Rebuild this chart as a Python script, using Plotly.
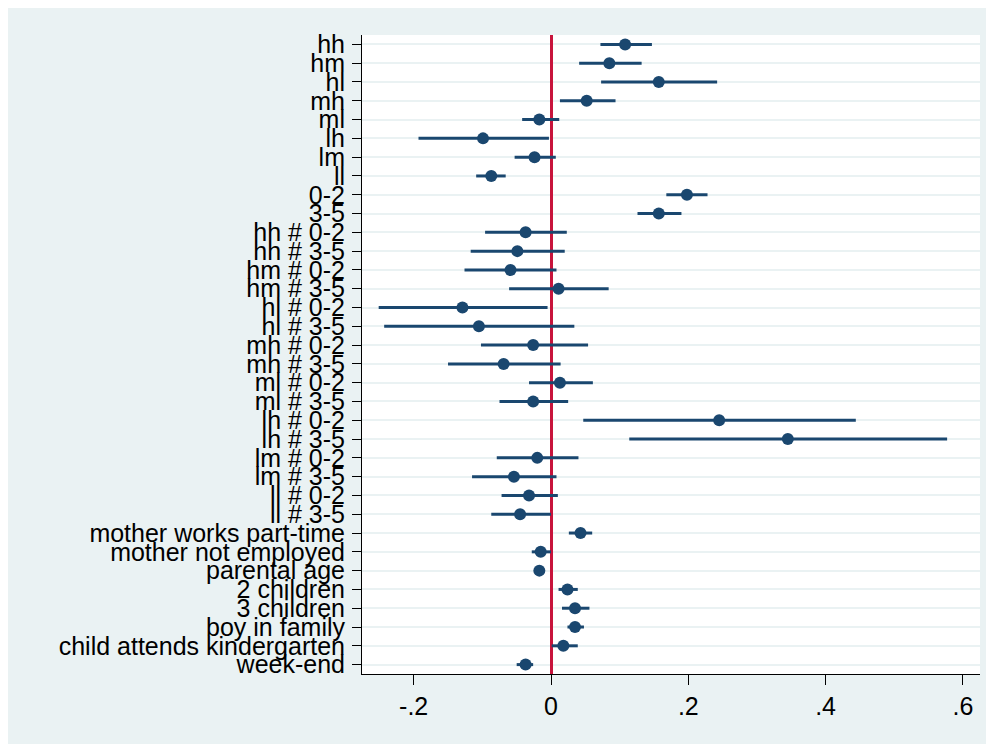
import plotly.graph_objects as go

labels = ["hh", "hm", "hl", "mh", "ml", "lh", "lm", "ll", "0-2", "3-5",
          "hh # 0-2", "hh # 3-5", "hm # 0-2", "hm # 3-5", "hl # 0-2", "hl # 3-5",
          "mh # 0-2", "mh # 3-5", "ml # 0-2", "ml # 3-5", "lh # 0-2", "lh # 3-5",
          "lm # 0-2", "lm # 3-5", "ll # 0-2", "ll # 3-5",
          "mother works part-time", "mother not employed", "parental age",
          "2 children", "3 children", "boy in family",
          "child attends kindergarten", "week-end"]

est = [0.108, 0.085, 0.157, 0.052, -0.017, -0.099, -0.024, -0.087, 0.198, 0.157,
       -0.037, -0.049, -0.059, 0.011, -0.129, -0.105,
       -0.026, -0.069, 0.013, -0.026, 0.245, 0.345,
       -0.020, -0.054, -0.032, -0.045,
       0.043, -0.015, -0.017,
       0.024, 0.035, 0.035,
       0.018, -0.037]

lo = [0.072, 0.041, 0.073, 0.013, -0.042, -0.193, -0.053, -0.109, 0.168, 0.126,
      -0.096, -0.117, -0.126, -0.061, -0.251, -0.243,
      -0.102, -0.150, -0.032, -0.075, 0.047, 0.114,
      -0.079, -0.115, -0.072, -0.087,
      0.026, -0.028, -0.019,
      0.011, 0.016, 0.024,
      0.001, -0.050]

hi = [0.147, 0.132, 0.242, 0.094, 0.012, -0.003, 0.007, -0.066, 0.228, 0.190,
      0.023, 0.020, 0.008, 0.084, -0.005, 0.034,
      0.054, 0.014, 0.061, 0.025, 0.444, 0.577,
      0.040, 0.008, 0.010, 0.000,
      0.060, 0.000, -0.015,
      0.039, 0.056, 0.048,
      0.039, -0.026]

x_ticks = [-0.2, 0, 0.2, 0.4, 0.6]
x_ticktext = ["-.2", "0", ".2", ".4", ".6"]

NAVY = "#1a476f"
BG = "#eaf2f3"
RED = "#c8143c"
FONT = "Liberation Sans, Arial, sans-serif"

fig = go.Figure()

fig.add_trace(go.Scatter(
    x=est, y=labels, mode="markers",
    marker=dict(size=12, color=NAVY),
    error_x=dict(type="data", symmetric=False,
                 array=[h - e for h, e in zip(hi, est)],
                 arrayminus=[e - l for e, l in zip(est, lo)],
                 width=0, thickness=3, color=NAVY),
    showlegend=False, hoverinfo="x+y",
))

W, H = 994, 744
ml, mr, mt, mb = 354, 22, 27, 78

fig.update_layout(
    width=W, height=H,
    margin=dict(l=ml, r=mr, t=mt, b=mb, pad=0),
    paper_bgcolor=BG,
    plot_bgcolor="white",
    font=dict(family=FONT, size=25, color="black"),
    xaxis=dict(
        range=[-0.2753, 0.6249], tickvals=x_ticks, ticktext=x_ticktext,
        showgrid=False,
        zeroline=True, zerolinecolor=RED, zerolinewidth=2.5,
        showline=True, linecolor="black", linewidth=1,
        ticks="outside", ticklen=10, tickcolor="black", tickwidth=1,
        tickfont=dict(size=25), ticklabelstandoff=0,
    ),
    yaxis=dict(
        type="category", categoryorder="array", categoryarray=labels,
        tickmode="array", tickvals=labels, ticktext=labels,
        range=[len(labels) - 0.5, -0.5],
        showgrid=True, gridcolor=BG, gridwidth=2,
        zeroline=False,
        showline=True, linecolor="black", linewidth=1,
        ticks="outside", ticklen=9, tickcolor="black", tickwidth=1,
        tickfont=dict(size=25), ticklabelstandoff=2,
    ),
)

fig.write_html("out.html")
